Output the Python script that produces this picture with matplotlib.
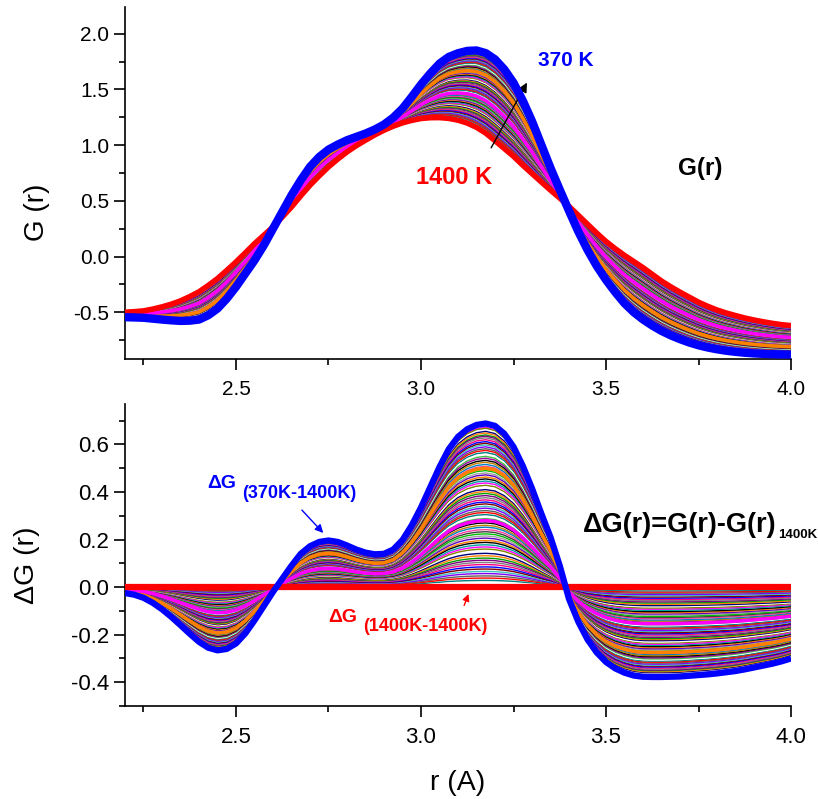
import matplotlib
matplotlib.use('Agg')
import matplotlib.pyplot as plt
import numpy as np

plt.rcParams['font.family'] = ['Liberation Sans', 'DejaVu Sans']

# ---------------- data ----------------
r = [2.200, 2.225, 2.250, 2.275, 2.300, 2.325, 2.350, 2.375, 2.400, 2.425,
     2.450, 2.475, 2.500, 2.525, 2.550, 2.575, 2.600, 2.625, 2.650, 2.675,
     2.700, 2.725, 2.750, 2.775, 2.800, 2.825, 2.850, 2.875, 2.900, 2.925,
     2.950, 2.975, 3.000, 3.025, 3.050, 3.075, 3.100, 3.125, 3.150, 3.175,
     3.200, 3.225, 3.250, 3.275, 3.300, 3.325, 3.350, 3.375, 3.400, 3.425,
     3.450, 3.475, 3.500, 3.525, 3.550, 3.575, 3.600, 3.625, 3.650, 3.675,
     3.700, 3.725, 3.750, 3.775, 3.800, 3.825, 3.850, 3.875, 3.900, 3.925,
     3.950, 3.975, 4.000]

G_370K = [-0.545, -0.547, -0.550, -0.558, -0.566, -0.573, -0.578, -0.576, -0.566, -0.527,
          -0.467, -0.378, -0.272, -0.153, -0.034, 0.100, 0.250, 0.400, 0.550, 0.685,
          0.805, 0.894, 0.960, 1.005, 1.044, 1.074, 1.104, 1.140, 1.185, 1.247,
          1.328, 1.433, 1.544, 1.643, 1.732, 1.792, 1.825, 1.846, 1.850, 1.826,
          1.770, 1.680, 1.560, 1.400, 1.215, 1.005, 0.795, 0.600, 0.410, 0.225,
          0.060, -0.085, -0.210, -0.320, -0.420, -0.500, -0.565, -0.620, -0.668, -0.708,
          -0.742, -0.772, -0.797, -0.817, -0.833, -0.846, -0.856, -0.864, -0.870, -0.874,
          -0.877, -0.879, -0.880]

G_1400K = [-0.500, -0.495, -0.488, -0.472, -0.452, -0.428, -0.398, -0.360, -0.317, -0.260,
           -0.198, -0.125, -0.049, 0.032, 0.115, 0.190, 0.265, 0.355, 0.445, 0.545,
           0.640, 0.725, 0.805, 0.875, 0.939, 0.995, 1.044, 1.092, 1.134, 1.170,
           1.200, 1.222, 1.239, 1.246, 1.247, 1.240, 1.224, 1.198, 1.160, 1.108,
           1.040, 0.970, 0.900, 0.820, 0.745, 0.670, 0.596, 0.525, 0.450, 0.370,
           0.290, 0.210, 0.135, 0.070, 0.010, -0.045, -0.100, -0.160, -0.220, -0.272,
           -0.320, -0.365, -0.410, -0.447, -0.480, -0.507, -0.530, -0.552, -0.570, -0.586,
           -0.600, -0.612, -0.620]

dG_370K = [-0.025, -0.032, -0.045, -0.066, -0.093, -0.125, -0.160, -0.196, -0.230, -0.255,
           -0.266, -0.260, -0.237, -0.195, -0.140, -0.080, -0.020, 0.035, 0.090, 0.140,
           0.172, 0.190, 0.196, 0.190, 0.175, 0.158, 0.145, 0.138, 0.140, 0.158,
           0.198, 0.260, 0.335, 0.420, 0.505, 0.580, 0.632, 0.664, 0.682, 0.688,
           0.678, 0.645, 0.590, 0.510, 0.415, 0.310, 0.210, 0.090, -0.050, -0.145,
           -0.220, -0.275, -0.315, -0.342, -0.360, -0.372, -0.377, -0.378, -0.378, -0.377,
           -0.376, -0.373, -0.370, -0.367, -0.363, -0.358, -0.353, -0.346, -0.338, -0.330,
           -0.322, -0.312, -0.300]

# peak height of dG(r) near r = 3.17 for each intermediate temperature curve
peak_dG = [0.685, 0.68, 0.672, 0.668, 0.66, 0.655, 0.648, 0.64, 0.635, 0.628,
           0.62, 0.612, 0.605, 0.598, 0.59, 0.582, 0.575, 0.566, 0.558, 0.55,
           0.542, 0.533, 0.525, 0.516, 0.508, 0.497, 0.49, 0.48, 0.472, 0.463,
           0.455, 0.446, 0.438, 0.428, 0.42, 0.41, 0.402, 0.394, 0.385, 0.376,
           0.367, 0.358, 0.35, 0.34, 0.332, 0.322, 0.314, 0.305, 0.296, 0.288,
           0.278, 0.27, 0.26, 0.252, 0.242, 0.233, 0.224, 0.215, 0.206, 0.196,
           0.188, 0.178, 0.169, 0.16, 0.15, 0.142, 0.132, 0.122, 0.113, 0.104,
           0.095, 0.085, 0.076, 0.066, 0.057, 0.047, 0.038, 0.028, 0.019, 0.01]
highlight_peaks = [0.50, 0.28]
highlight_colors = ['#FF8000', '#FF00FF']

palette = ['#000000', '#00A0A0', '#FF00FF', '#808000', '#FFFFFF', '#000080',
           '#FF8000', '#00A000', '#800080', '#808080', '#FF0080', '#0000FF',
           '#800000', '#40C0C0', '#8000FF', '#606060', '#FF0000', '#008080',
           '#FFFFFF', '#40C040', '#A000A0', '#000000', '#C08000', '#0080C0',
           '#FF40A0', '#404040', '#00C000', '#A0A0A0', '#6000C0', '#FF8000']

# ---------------- figure ----------------
W, H = 818, 799
fig = plt.figure(figsize=(W / 100, H / 100), dpi=100)
ax1 = fig.add_axes([125 / W, 1 - 359 / H, 666 / W, 352 / H])
ax2 = fig.add_axes([125 / W, 1 - 706 / H, 666 / W, 302 / H])

rr = np.array(r)
g370 = np.array(G_370K)
g1400 = np.array(G_1400K)
dg370 = np.array(dG_370K)
pmax = max(dG_370K)

for i, p in enumerate(peak_dG):
    f = p / pmax
    c = palette[i % len(palette)]
    ax1.plot(rr, g1400 + f * (g370 - g1400), color=c, lw=1.0, zorder=2)
    ax2.plot(rr, f * dg370, color=c, lw=1.0, zorder=2)
for p, c in zip(highlight_peaks, highlight_colors):
    f = p / pmax
    ax1.plot(rr, g1400 + f * (g370 - g1400), color=c, lw=2.5, zorder=2.5)
    ax2.plot(rr, f * dg370, color=c, lw=2.5, zorder=2.5)

ax1.plot(rr, g1400, color='#FF0000', lw=4.0, zorder=3, solid_capstyle='butt')
ax1.plot(rr, g370, color='#0000FF', lw=6.0, zorder=4, solid_capstyle='butt')
ax2.plot(rr, np.zeros_like(rr), color='#FF0000', lw=4.5, zorder=3, solid_capstyle='butt')
ax2.plot(rr, dg370, color='#0000FF', lw=4.5, zorder=4, solid_capstyle='butt')

for ax, ls in ((ax1, 15), (ax2, 16)):
    ax.set_xlim(2.2, 4.0)
    ax.spines['top'].set_visible(False)
    ax.spines['right'].set_visible(False)
    for s in ('left', 'bottom'):
        ax.spines[s].set_linewidth(1.2)
    ax.set_xticks([2.5, 3.0, 3.5, 4.0])
    ax.set_xticks([2.25, 2.75, 3.25, 3.75], minor=True)
    ax.tick_params(axis='both', which='major', direction='out', length=8,
                   width=1.2, labelsize=ls)
    ax.tick_params(axis='both', which='minor', direction='out', length=4.5,
                   width=1.2)
    ax.tick_params(axis='x', which='major', pad=7)
    ax.tick_params(axis='y', which='major', pad=3.5)
    ax.xaxis.set_major_formatter(matplotlib.ticker.FormatStrFormatter('%.1f'))
    ax.yaxis.set_major_formatter(matplotlib.ticker.FormatStrFormatter('%.1f'))

ax1.set_ylim(-0.92, 2.24)
ax1.set_yticks([-0.5, 0.0, 0.5, 1.0, 1.5, 2.0])
ax1.set_yticks([-0.75, -0.25, 0.25, 0.75, 1.25, 1.75], minor=True)
ax2.set_ylim(-0.5, 0.77)
ax2.set_yticks([-0.4, -0.2, 0.0, 0.2, 0.4, 0.6])
ax2.set_yticks([-0.5, -0.3, -0.1, 0.1, 0.3, 0.5, 0.7], minor=True)

ax1.set_ylabel('G (r)', fontsize=20)
ax1.yaxis.set_label_coords(-0.1126, 0.418)
ax2.set_ylabel('\u0394G (r)', fontsize=20.5)
ax2.yaxis.set_label_coords(-0.128, 0.467)
ax2.set_xlabel('r (A)', fontsize=20.5)
ax2.xaxis.set_label_coords(0.5, -0.212)

# ---------------- annotations ----------------
ax1.annotate('', xy=(3.29, 1.583), xytext=(3.186, 0.954),
             arrowprops=dict(arrowstyle='-|>', color='k', lw=1.0, mutation_scale=14))
ax1.text(3.392, 1.762, '370 K', color='#0000FF', fontsize=15, fontweight='bold',
         ha='center', va='center')
ax1.text(3.09, 0.712, '1400 K', color='#FF0000', fontsize=17, fontweight='bold',
         ha='center', va='center')
ax1.text(3.754, 0.793, 'G(r)', color='k', fontsize=17.5, fontweight='bold',
         ha='center', va='center')

ax2.annotate('', xy=(2.741, 0.219), xytext=(2.673, 0.3325),
             arrowprops=dict(arrowstyle='-|>', color='#0000FF', lw=1.0, mutation_scale=12))
ax2.text(2.422, 0.437, '\u0394G', color='#0000FF', fontsize=14, fontweight='bold',
         ha='left', va='center')
ax2.text(2.516, 0.395, '(370K-1400K)', color='#0000FF', fontsize=13, fontweight='bold',
         ha='left', va='center')
ax2.annotate('', xy=(3.131, -0.018), xytext=(3.114, -0.088),
             arrowprops=dict(arrowstyle='-|>', color='#FF0000', lw=1.0, mutation_scale=10))
ax2.text(2.749, -0.127, '\u0394G', color='#FF0000', fontsize=14, fontweight='bold',
         ha='left', va='center')
ax2.text(2.843, -0.165, '(1400K-1400K)', color='#FF0000', fontsize=13, fontweight='bold',
         ha='left', va='center')
main_t = ax2.text(3.438, 0.261, '\u0394G(r)=G(r)-G(r)', color='k', fontsize=19.5,
                  fontweight='bold', ha='left', va='center')
ax2.annotate('1400K', xy=(1.0, 0.0), xycoords=main_t, xytext=(1, 2),
             textcoords='offset points', color='k', fontsize=9.5, fontweight='bold',
             ha='left', va='center')

fig.savefig('out.png', dpi=100)
